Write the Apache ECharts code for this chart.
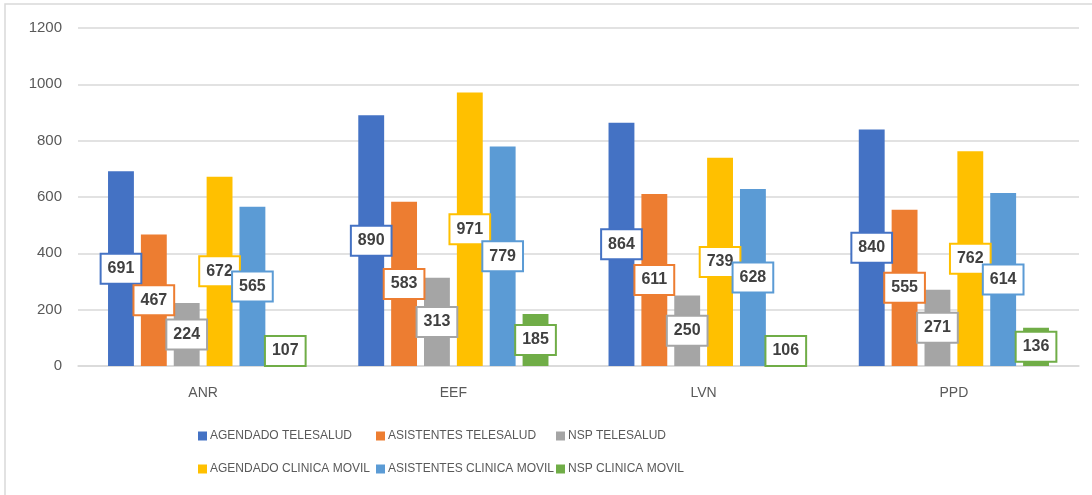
<!DOCTYPE html>
<html>
<head>
<meta charset="utf-8">
<script src="https://cdn.jsdelivr.net/npm/echarts@6/dist/echarts.min.js"></script>
<style>
  html, body { margin: 0; padding: 0; background: #fff; }
  #chart { width: 1092px; height: 495px; }
</style>
</head>
<body>
<div id="chart"></div>
<script>
// categories and series values
const categories = ['ANR', 'EEF', 'LVN', 'PPD'];
const seriesNames = [
  'AGENDADO TELESALUD', 'ASISTENTES TELESALUD', 'NSP TELESALUD',
  'AGENDADO CLINICA MOVIL', 'ASISTENTES CLINICA MOVIL', 'NSP CLINICA MOVIL'
];
const agendadoTele = [691, 890, 864, 840];
const asistentesTele = [467, 583, 611, 555];
const nspTele = [224, 313, 250, 271];
const agendadoMovil = [672, 971, 739, 762];
const asistentesMovil = [565, 779, 628, 614];
const nspMovil = [107, 185, 106, 136];
const yTicks = { min: 0, max: 1200, interval: 200 };

const colors = ['#4472C4', '#ED7D31', '#A5A5A5', '#FFC000', '#5B9BD5', '#70AD47'];
const values = [agendadoTele, asistentesTele, nspTele, agendadoMovil, asistentesMovil, nspMovil];

const chart = echarts.init(document.getElementById('chart'));

const series = values.map((data, i) => ({
  name: seriesNames[i],
  type: 'bar',
  data: data,
  barGap: '27%',
  barCategoryGap: '24%',
  itemStyle: { color: colors[i] },
  label: {
    show: true,
    position: 'inside',
    color: '#404040',
    fontFamily: 'Liberation Sans',
    fontWeight: 'bold',
    fontSize: 16,
    backgroundColor: '#fff',
    borderColor: colors[i],
    borderWidth: 2,
    padding: [7, 6, 5, 6],
  },
}));

// legend laid out in 3 columns x 2 rows, like the original
const legendCols = [193, 371, 551];
const legendRows = [425, 458];
const legends = seriesNames.map((name, i) => ({
  left: legendCols[i % 3],
  top: legendRows[Math.floor(i / 3)],
  itemWidth: 9,
  itemHeight: 9,
  icon: 'rect',
  textStyle: {
    color: '#595959',
    fontSize: 12,
    fontFamily: 'Liberation Sans',
    padding: [0, 0, 0, -2],
  },
  data: [name],
}));

chart.setOption({
  animation: false,
  textStyle: { fontFamily: 'Liberation Sans' },
  graphic: [{
    type: 'rect',
    shape: { x: 5, y: 4, width: 1200, height: 600 },
    style: { fill: 'none', stroke: '#D9D9D9', lineWidth: 1.5 },
    silent: true,
  }],
  grid: { left: 78, right: 13, top: 28, bottom: 129 },
  legend: legends,
  xAxis: {
    type: 'category',
    data: categories,
    axisTick: { show: false },
    axisLine: { lineStyle: { color: '#D9D9D9', width: 1.5 } },
    axisLabel: { color: '#595959', fontSize: 14, margin: 20 },
  },
  yAxis: {
    type: 'value',
    min: yTicks.min,
    max: yTicks.max,
    interval: yTicks.interval,
    axisLine: { show: false },
    axisTick: { show: false },
    axisLabel: { color: '#595959', fontSize: 15, margin: 16, formatter: (v) => String(v) },
    splitLine: { lineStyle: { color: '#D9D9D9', width: 1.5 } },
  },
  series: series,
});
</script>
</body>
</html>
